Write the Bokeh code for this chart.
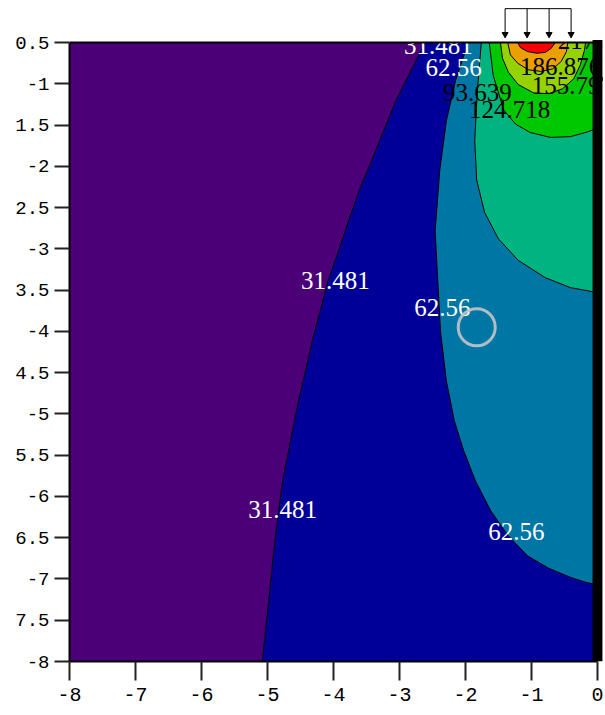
from bokeh.plotting import figure
from bokeh.models import ColumnDataSource, Range1d, FixedTicker
from bokeh.core.properties import value
from bokeh.embed import file_html
from bokeh.resources import INLINE

# ---------------- data ----------------
domain_x = [-8.0, 0.0]
domain_y = [-8.0, -0.5]

levels = [31.481, 62.56, 93.639, 124.718, 155.797, 186.876, 217.955]
level_colors = ["#000099", "#0076a5", "#00b480", "#00c800", "#96d200", "#eba000", "#ff0000"]
base_color = "#4b0078"

# contour lines (x, depth)
c31_x = [-2.61, -2.80, -3.05, -3.24, -3.42, -3.61, -3.77, -3.92, -4.08, -4.20,
         -4.32, -4.42, -4.53, -4.62, -4.71, -4.77, -4.85, -4.92, -4.98, -5.08]
c31_y = [-0.50, -0.80, -1.20, -1.57, -1.93, -2.29, -2.66, -3.02, -3.38, -3.75,
         -4.11, -4.47, -4.84, -5.20, -5.57, -5.81, -6.29, -6.78, -7.26, -8.00]

c62_x = [-1.96, -2.15, -2.29, -2.39, -2.46, -2.42, -2.38, -2.29, -2.17, -2.03,
         -1.85, -1.62, -1.36, -1.06, -0.74, -0.41, -0.18, 0.0]
c62_y = [-0.50, -0.96, -1.45, -2.05, -2.78, -3.38, -3.99, -4.60, -5.08, -5.44,
         -5.81, -6.17, -6.47, -6.72, -6.87, -6.98, -7.04, -7.07]

c93_x = [-1.76, -1.82, -1.86, -1.83, -1.71, -1.50, -1.20, -0.79, -0.41, 0.0]
c93_y = [-0.50, -1.08, -1.69, -2.17, -2.56, -2.88, -3.14, -3.35, -3.47, -3.53]

c124_x = [-1.64, -1.58, -1.42, -1.24, -1.02, -0.71, -0.41, -0.18, 0.0]
c124_y = [-0.50, -0.90, -1.32, -1.49, -1.59, -1.65, -1.64, -1.59, -1.54]

c155_x = [-1.47, -1.44, -1.35, -1.20, -0.97, -0.74, -0.53, -0.36, -0.26, -0.20, -0.18]
c155_y = [-0.50, -0.69, -0.86, -1.01, -1.11, -1.12, -1.06, -0.94, -0.77, -0.60, -0.50]

c186_x = [-1.36, -1.32, -1.21, -1.05, -0.86, -0.68, -0.55, -0.47, -0.45]
c186_y = [-0.50, -0.65, -0.75, -0.83, -0.85, -0.82, -0.73, -0.61, -0.50]

c217_x = [-1.21, -1.17, -1.06, -0.92, -0.79, -0.70, -0.64]
c217_y = [-0.50, -0.56, -0.61, -0.63, -0.62, -0.57, -0.50]

contour_x = [c31_x, c62_x, c93_x, c124_x, c155_x, c186_x, c217_x]
contour_y = [c31_y, c62_y, c93_y, c124_y, c155_y, c186_y, c217_y]

label_text = ["31.481", "31.481", "31.481", "62.56", "62.56", "62.56",
              "93.639", "124.718", "155.797", "186.876", "217.955"]
label_x = [-2.41, -3.97, -4.77, -2.18, -2.35, -1.23, -1.82, -1.33, -0.38, -0.56, 0.015]
label_y = [-0.536, -3.38, -6.16, -0.797, -3.71, -6.43, -1.10, -1.31, -1.02, -0.79, -0.47]
label_color = ["white"] * 6 + ["black"] * 5

marker_x = [-1.83]
marker_y = [-3.95]

load_x = [-1.40, -1.0667, -0.7333, -0.40]
load_top = -0.09
load_tip = -0.44

wall_x = 0.0
wall_top = -0.47

x_ticks = [-8, -7, -6, -5, -4, -3, -2, -1, 0]
x_tick_labels = ["-8", "-7", "-6", "-5", "-4", "-3", "-2", "-1", "0"]
y_ticks = [-0.5, -1.0, -1.5, -2.0, -2.5, -3.0, -3.5, -4.0, -4.5, -5.0, -5.5, -6.0, -6.5, -7.0, -7.5, -8.0]
y_tick_labels = ["0.5", "-1", "1.5", "-2", "2.5", "-3", "3.5", "-4", "4.5", "-5", "5.5", "-6", "6.5", "-7", "7.5", "-8"]

# ---------------- figure ----------------
p = figure(width=603, height=713, output_backend="svg", toolbar_location=None,
           x_range=Range1d(-8.0, 0.0909), y_range=Range1d(-8.0, 0.009),
           min_border_left=69, min_border_right=0, min_border_top=0, min_border_bottom=52)
p.outline_line_color = None
p.background_fill_color = "white"
p.border_fill_color = "white"
p.xgrid.visible = False
p.ygrid.visible = False

x0, x1 = domain_x
y0, y1 = domain_y

fill_xs = [[x0, x1, x1, x0]]
fill_ys = [[y0, y0, y1, y1]]
fill_colors = [base_color]
for cx, cy, col in zip(contour_x, contour_y, level_colors):
    px, py = list(cx), list(cy)
    if py[-1] == y0:
        px += [x1, x1]
        py += [y0, y1]
    elif px[-1] == x1:
        px += [x1]
        py += [y1]
    fill_xs.append(px)
    fill_ys.append(py)
    fill_colors.append(col)

p.patches(fill_xs, fill_ys, fill_color=fill_colors, line_color=None)
p.multi_line(contour_x, contour_y, line_color="black", line_width=1)

lab_src = ColumnDataSource(dict(x=label_x, y=label_y, t=label_text, c=label_color))
p.text(x="x", y="y", text="t", text_color="c", source=lab_src,
       text_font=value("Liberation Serif"), text_font_size="25px",
       text_align="center", text_baseline="middle")

p.scatter(marker_x, marker_y, size=37, marker="circle", fill_color=None,
          line_color="#c4c4c8", line_width=3, line_alpha=0.9)

# white mask above the ground surface
p.quad(left=x0 - 1, right=x1 + 1, bottom=y1, top=y1 + 1, fill_color="white", line_color=None)
# ground surface line
p.line([x0, x1], [y1, y1], line_color="black", line_width=2)

# strip load
n = len(load_x)
p.segment(x0=load_x, y0=[load_top] * n, x1=load_x, y1=[load_tip] * n, line_color="black", line_width=1)
p.line([load_x[0], load_x[-1]], [load_top, load_top], line_color="black", line_width=1)
p.scatter(load_x, [load_tip + 0.04] * n, marker="inverted_triangle", size=6, color="black")

# wall
p.quad(left=wall_x - 0.075, right=wall_x + 0.075, bottom=y0, top=wall_top, fill_color="black", line_color=None)

# axes
p.xaxis.ticker = FixedTicker(ticks=x_ticks)
p.xaxis.major_label_overrides = {float(t): l for t, l in zip(x_ticks, x_tick_labels)}
p.xaxis.bounds = (x0, x1)
p.xaxis.major_tick_out = 19
p.xaxis.major_tick_in = 0
p.xaxis.major_label_standoff = 7
p.xaxis.major_label_text_font = "Liberation Mono"
p.xaxis.major_label_text_font_size = "20px"

p.yaxis.ticker = FixedTicker(ticks=y_ticks)
p.yaxis.major_label_overrides = {float(t): l for t, l in zip(y_ticks, y_tick_labels)}
p.yaxis.bounds = (y0, y1)
p.yaxis.major_tick_out = 15
p.yaxis.major_tick_in = 0
p.yaxis.major_label_standoff = 5
p.yaxis.major_label_text_font = "Liberation Mono"
p.yaxis.major_label_text_font_size = "19px"

for ax in (p.xaxis, p.yaxis):
    ax.axis_line_width = 2
    ax.axis_line_color = "black"
    ax.major_tick_line_width = 2
    ax.major_tick_line_color = "#222222"
    ax.minor_tick_line_color = None
    ax.major_label_text_color = "black"

open("out.html", "w").write(file_html(p, INLINE))
